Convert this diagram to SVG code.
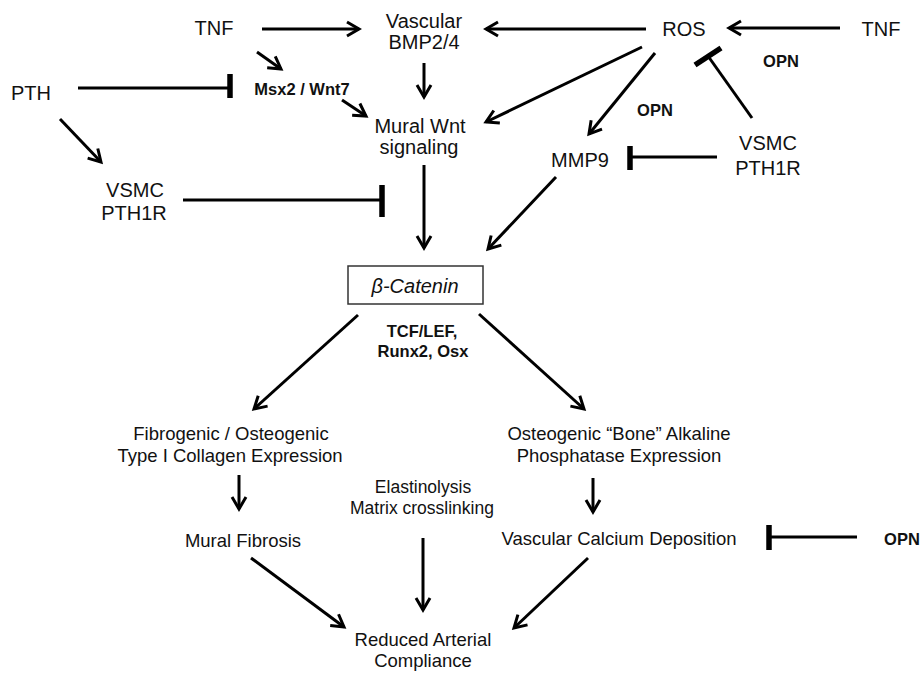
<svg xmlns="http://www.w3.org/2000/svg" width="923" height="673" viewBox="0 0 923 673">
<style>
text{font-family:"Liberation Sans",Arial,sans-serif;fill:#111;text-anchor:middle}
.t{font-size:20px}
.s{font-size:18.5px}
.e{font-size:17.5px}
.b{font-size:16.5px;font-weight:bold}
.i{font-size:20px;font-style:italic}
.a{stroke:#000;stroke-width:3;fill:none;marker-end:url(#ah)}
.l{stroke:#000;stroke-width:3;fill:none}
.bar{stroke:#000;stroke-width:5.5;fill:none}
</style>
<defs>
<marker id="ah" markerUnits="userSpaceOnUse" markerWidth="30" markerHeight="30" viewBox="-15 -15 30 30" refX="0" refY="0" orient="auto">
<path d="M-12,-7 L0,0 L-12,7" fill="none" stroke="#000" stroke-width="3"/>
</marker>
</defs>
<rect width="923" height="673" fill="#fff"/>
<g id="connectors">
<line class="a" x1="262" y1="29" x2="359" y2="29"/>
<line class="a" x1="257" y1="52" x2="281" y2="69"/>
<line class="a" x1="424" y1="63" x2="424" y2="97"/>
<line class="a" x1="342" y1="100" x2="366" y2="116"/>
<line class="l" x1="78" y1="88" x2="230" y2="88"/>
<line class="bar" x1="230" y1="74" x2="230" y2="98"/>
<line class="a" x1="60" y1="119" x2="101" y2="162"/>
<line class="l" x1="183" y1="200" x2="382" y2="200"/>
<line class="bar" x1="382" y1="185" x2="382" y2="217"/>
<line class="a" x1="646" y1="29" x2="486" y2="29"/>
<line class="a" x1="840" y1="28" x2="729" y2="28"/>
<line class="a" x1="642" y1="47" x2="486" y2="122"/>
<line class="a" x1="655" y1="53" x2="589" y2="134"/>
<line class="l" x1="752" y1="118" x2="708" y2="56"/>
<line class="bar" x1="695" y1="65" x2="721" y2="48"/>
<line class="l" x1="717" y1="157" x2="630" y2="157"/>
<line class="bar" x1="630" y1="146" x2="630" y2="170"/>
<line class="a" x1="556" y1="177" x2="488" y2="249"/>
<line class="a" x1="424" y1="165" x2="424" y2="248"/>
<line class="a" x1="358" y1="315" x2="254" y2="409"/>
<line class="a" x1="479" y1="314" x2="584" y2="409"/>
<line class="a" x1="239" y1="475" x2="239" y2="509"/>
<line class="a" x1="423" y1="538" x2="423" y2="610"/>
<line class="a" x1="593" y1="478" x2="593" y2="512"/>
<line class="l" x1="857" y1="537" x2="769" y2="537"/>
<line class="bar" x1="769" y1="525" x2="769" y2="550"/>
<line class="a" x1="251" y1="558" x2="344" y2="627"/>
<line class="a" x1="588" y1="558" x2="514" y2="628"/>
</g>
<g id="tnf-left"><text class="t" x="214" y="35">TNF</text></g>
<g id="vascular-bmp"><text class="t" x="424" y="28">Vascular</text><text class="t" x="424" y="49">BMP2/4</text></g>
<g id="msx2-wnt7"><text class="b" x="302" y="95">Msx2 / Wnt7</text></g>
<g id="pth"><text class="t" x="31" y="100">PTH</text></g>
<g id="mural-wnt"><text class="t" x="420" y="133">Mural Wnt</text><text class="t" x="419" y="154">signaling</text></g>
<g id="vsmc-left"><text class="t" x="135" y="197">VSMC</text><text class="t" x="134" y="220">PTH1R</text></g>
<g id="ros"><text class="t" x="684" y="36">ROS</text></g>
<g id="tnf-right"><text class="t" x="881" y="36">TNF</text></g>
<g id="opn-top"><text class="b" x="781" y="67">OPN</text></g>
<g id="opn-mid"><text class="b" x="655" y="116">OPN</text></g>
<g id="vsmc-right"><text class="t" x="768" y="150">VSMC</text><text class="t" x="768" y="175">PTH1R</text></g>
<g id="mmp9"><text class="t" x="580" y="167">MMP9</text></g>
<g id="beta-catenin"><rect x="348" y="266" width="135" height="38" fill="#fff" stroke="#333" stroke-width="1.5"/><text class="i" x="415" y="293">β-Catenin</text></g>
<g id="tcf-lef"><text class="b" x="422" y="337">TCF/LEF,</text><text class="b" x="423" y="357">Runx2, Osx</text></g>
<g id="fibrogenic"><text class="s" x="231" y="440">Fibrogenic / Osteogenic</text><text class="s" x="230" y="462">Type I Collagen Expression</text></g>
<g id="osteogenic"><text class="s" x="619" y="440">Osteogenic “Bone” Alkaline</text><text class="s" x="619" y="462">Phosphatase Expression</text></g>
<g id="elastinolysis"><text class="e" x="423" y="493">Elastinolysis</text><text class="e" x="422" y="514">Matrix crosslinking</text></g>
<g id="mural-fibrosis"><text class="s" x="243" y="547">Mural Fibrosis</text></g>
<g id="calcium"><text class="s" x="619" y="545">Vascular Calcium Deposition</text></g>
<g id="opn-bottom"><text class="b" x="902" y="545">OPN</text></g>
<g id="reduced"><text class="s" x="423" y="646">Reduced Arterial</text><text class="s" x="423" y="667">Compliance</text></g>
</svg>
